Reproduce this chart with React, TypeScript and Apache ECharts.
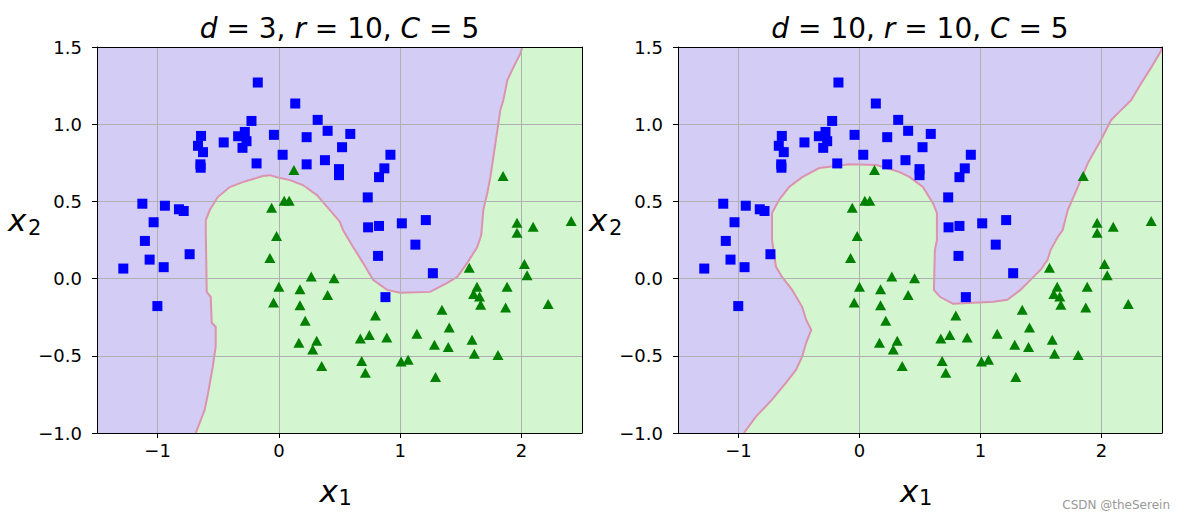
import React, { useEffect, useRef } from 'react';
import * as echarts from 'echarts';

// ---------- data ----------
const X_TICKS = [-1, 0, 1, 2];
const Y_MIN = -1.0;
const Y_MAX = 1.5;
const Y_STEP = 0.5;
const X_MIN = -1.5;
const X_MAX = 2.5;

// class 0 (blue squares)
const squares: number[][] = [
  [-0.174, 1.270], [0.135, 1.134], [0.320, 1.028], [0.402, 0.957], [0.229, 0.916],
  [-0.041, 0.931], [-0.226, 1.021], [-0.281, 0.950], [-0.336, 0.922], [-0.267, 0.890],
  [-0.300, 0.847], [-0.455, 0.882], [-0.642, 0.924], [-0.667, 0.860], [-0.626, 0.819],
  [-0.647, 0.740], [-0.645, 0.718], [-0.184, 0.746], [0.031, 0.802], [0.229, 0.740],
  [0.380, 0.767], [0.521, 0.851], [0.496, 0.709], [0.496, 0.670], [0.589, 0.937],
  [0.920, 0.802], [0.870, 0.714], [0.826, 0.657], [0.733, 0.526], [0.736, 0.332],
  [0.826, 0.341], [1.014, 0.358], [1.212, 0.379], [1.126, 0.220], [0.818, 0.147],
  [1.270, 0.035], [0.879, -0.120], [-1.126, 0.485], [-0.940, 0.472], [-0.824, 0.449],
  [-0.785, 0.438], [-1.033, 0.365], [-1.105, 0.244], [-1.066, 0.123], [-1.283, 0.065],
  [-0.950, 0.074], [-0.736, 0.158], [-1.002, -0.178],
];

// class 1 (green triangles)
const triangles: number[][] = [
  [0.124, 0.703], [-0.060, 0.459], [0.044, 0.504], [0.085, 0.504], [-0.019, 0.276],
  [-0.074, 0.134], [0.000, -0.052], [-0.044, -0.155], [0.174, -0.069], [0.267, 0.013],
  [0.455, 0.003], [0.402, -0.107], [0.174, -0.172], [0.217, -0.273], [0.165, -0.416],
  [0.312, -0.403], [0.279, -0.459], [0.353, -0.566], [1.849, 0.664], [1.964, 0.362],
  [1.964, 0.297], [2.097, 0.336], [2.411, 0.373], [2.025, 0.095], [2.047, 0.022],
  [1.570, 0.071], [1.634, -0.052], [1.606, -0.099], [1.655, -0.116], [1.664, -0.170],
  [1.882, -0.052], [1.870, -0.187], [2.221, -0.164], [1.345, -0.202], [0.796, -0.239],
  [1.405, -0.317], [1.138, -0.357], [0.746, -0.366], [0.672, -0.388], [0.890, -0.381],
  [1.283, -0.429], [1.397, -0.443], [1.593, -0.396], [1.612, -0.487], [1.807, -0.495],
  [0.683, -0.534], [0.713, -0.610], [1.008, -0.537], [1.066, -0.526], [1.292, -0.637],
];

// decision boundary, d = 3 (green side lies to the right / below)
const boundaryD3: number[][] = [
  [-0.686, -1.0], [-0.653, -0.934], [-0.612, -0.850], [-0.587, -0.754], [-0.545, -0.571],
  [-0.521, -0.440], [-0.521, -0.312], [-0.554, -0.286], [-0.562, -0.118], [-0.595, -0.086],
  [-0.603, 0.315], [-0.603, 0.379], [-0.570, 0.444], [-0.504, 0.528], [-0.405, 0.593],
  [-0.298, 0.625], [-0.132, 0.664], [-0.074, 0.670], [-0.017, 0.657], [0.091, 0.638],
  [0.198, 0.606], [0.314, 0.541], [0.421, 0.444], [0.504, 0.367], [0.529, 0.315],
  [0.612, 0.205], [0.694, 0.102], [0.777, -0.008], [0.893, -0.073], [1.000, -0.092],
  [1.248, -0.086], [1.388, -0.028], [1.471, 0.011], [1.554, 0.102], [1.636, 0.205],
  [1.669, 0.282], [1.686, 0.444], [1.719, 0.554], [1.744, 0.658], [1.769, 0.787],
  [1.802, 0.961], [1.826, 1.090], [1.851, 1.155], [1.884, 1.284], [1.934, 1.368],
  [1.992, 1.459], [2.008, 1.5],
];
const closeD3: number[][] = [[2.5, 1.5], [2.5, -1.0]];

// decision boundary, d = 10
const boundaryD10: number[][] = [
  [-0.956, -1.0], [-0.856, -0.894], [-0.723, -0.784], [-0.607, -0.674], [-0.524, -0.590],
  [-0.474, -0.506], [-0.441, -0.416], [-0.399, -0.332], [-0.441, -0.267], [-0.474, -0.183],
  [-0.557, -0.073], [-0.640, 0.011], [-0.690, 0.076], [-0.723, 0.250], [-0.723, 0.425],
  [-0.665, 0.509], [-0.582, 0.593], [-0.474, 0.657], [-0.333, 0.716], [-0.083, 0.741],
  [0.141, 0.735], [0.333, 0.690], [0.416, 0.657], [0.524, 0.593], [0.607, 0.489],
  [0.640, 0.425], [0.640, 0.250], [0.623, 0.185], [0.615, -0.073], [0.665, -0.118],
  [0.773, -0.163], [1.106, -0.150], [1.222, -0.137], [1.330, -0.073], [1.438, 0.011],
  [1.496, 0.056], [1.554, 0.121], [1.579, 0.185], [1.638, 0.269], [1.679, 0.315],
  [1.721, 0.444], [1.804, 0.593], [1.887, 0.748], [1.995, 0.897], [2.078, 1.026],
  [2.161, 1.091], [2.244, 1.155], [2.328, 1.265], [2.411, 1.368], [2.494, 1.478],
  [2.5, 1.5],
];
const closeD10: number[][] = [[2.5, -1.0]];

const panelParams = [
  { d: '3', r: '10', C: '5' },
  { d: '10', r: '10', C: '5' },
];
const watermark = 'CSDN @theSerein';

// ---------- styling ----------
const FONT = '"DejaVu Sans", sans-serif';
const PURPLE = '#d3ccf5';
const GREEN = '#d3f5cf';
const EDGE = '#db93b0';
const GRIDS = [
  { left: 97, top: 47, width: 485, height: 386 },
  { left: 678, top: 47, width: 484, height: 386 },
];
const minus = (s: string) => s.replace('-', '\u2212');

export default function App() {
  const ref = useRef<HTMLDivElement>(null);

  useEffect(() => {
    const chart = echarts.init(ref.current!, null, { renderer: 'svg' });
    const xAxes: any[] = [];
    const yAxes: any[] = [];
    const series: any[] = [];
    const graphics: any[] = [];
    const regions = [
      { boundary: boundaryD3, close: closeD3 },
      { boundary: boundaryD10, close: closeD10 },
    ];

    GRIDS.forEach((g, i) => {
      xAxes.push({
        gridIndex: i, type: 'value', min: X_MIN, max: X_MAX, position: 'bottom', z: 3,
        axisLine: { show: true, onZero: false, lineStyle: { color: '#000', width: 1 } },
        axisTick: { show: true, length: 5, customValues: X_TICKS, lineStyle: { color: '#000', width: 1 } },
        axisLabel: {
          customValues: X_TICKS, margin: 8, color: '#000', fontSize: 18, fontFamily: FONT,
          formatter: (v: number) => minus(String(v)),
        },
        splitLine: { show: true, lineStyle: { color: '#b0b0b0', width: 1 } },
      });
      xAxes.push({
        gridIndex: i, type: 'value', min: X_MIN, max: X_MAX, position: 'top', z: 3,
        axisLine: { show: true, onZero: false, lineStyle: { color: '#000', width: 1 } },
        axisTick: { show: false }, axisLabel: { show: false }, splitLine: { show: false },
      });
      yAxes.push({
        gridIndex: i, type: 'value', min: Y_MIN, max: Y_MAX, interval: Y_STEP, position: 'left', z: 3,
        axisLine: { show: true, onZero: false, lineStyle: { color: '#000', width: 1 } },
        axisTick: { show: true, length: 5, lineStyle: { color: '#000', width: 1 } },
        axisLabel: {
          margin: 15, color: '#000', fontSize: 18, fontFamily: FONT,
          formatter: (v: number) => minus(v.toFixed(1)),
        },
        splitLine: { show: true, lineStyle: { color: '#b0b0b0', width: 1 } },
      });
      yAxes.push({
        gridIndex: i, type: 'value', min: Y_MIN, max: Y_MAX, interval: Y_STEP, position: 'right', z: 3,
        axisLine: { show: true, onZero: false, lineStyle: { color: '#000', width: 1 } },
        axisTick: { show: false }, axisLabel: { show: false }, splitLine: { show: false },
      });

      const reg = regions[i];
      series.push({
        type: 'custom', coordinateSystem: 'cartesian2d', xAxisIndex: i * 2, yAxisIndex: i * 2,
        z: 1, silent: true, clip: true, data: [[0, 0]],
        renderItem: (_p: any, api: any) => {
          const pts = reg.boundary.map((p) => api.coord(p));
          const poly = pts.concat(reg.close.map((p) => api.coord(p)));
          return {
            type: 'group',
            children: [
              { type: 'polygon', shape: { points: poly }, style: { fill: GREEN } },
              { type: 'polyline', shape: { points: pts }, style: { stroke: EDGE, lineWidth: 2, fill: null } },
            ],
          };
        },
      });
      series.push({
        type: 'scatter', xAxisIndex: i * 2, yAxisIndex: i * 2, z: 5, silent: true,
        data: squares, symbol: 'rect', symbolSize: 10, itemStyle: { color: '#0000ff', opacity: 1 },
      });
      series.push({
        type: 'scatter', xAxisIndex: i * 2, yAxisIndex: i * 2, z: 6, silent: true,
        data: triangles, symbol: 'triangle', symbolSize: [11, 10], itemStyle: { color: '#008000', opacity: 1 },
      });

      const cx = g.left + g.width / 2;
      const p = panelParams[i];
      graphics.push({
        type: 'text', x: cx, y: 28, silent: true,
        style: {
          text: `{i|d} = ${p.d}, {i|r} = ${p.r}, {i|C} = ${p.C}`,
          align: 'center', verticalAlign: 'middle', fill: '#000',
          fontSize: 28, fontFamily: FONT,
          rich: {
            i: { fontStyle: 'italic', fontSize: 28, fontFamily: FONT, fill: '#000' },
          },
        },
      });
      // x1 label
      graphics.push({
        type: 'text', x: cx - 20, y: 491, silent: true,
        style: { text: 'x', fontStyle: 'italic', fontSize: 31, fontFamily: FONT, fill: '#000', align: 'left', verticalAlign: 'middle' },
      });
      graphics.push({
        type: 'text', x: cx - 1, y: 497.5, silent: true,
        style: { text: '1', fontSize: 21, fontFamily: FONT, fill: '#000', align: 'left', verticalAlign: 'middle' },
      });
      // x2 label
      graphics.push({
        type: 'text', x: g.left - 89, y: 219.5, silent: true,
        style: { text: 'x', fontStyle: 'italic', fontSize: 31, fontFamily: FONT, fill: '#000', align: 'left', verticalAlign: 'middle' },
      });
      graphics.push({
        type: 'text', x: g.left - 69, y: 227.5, silent: true,
        style: { text: '2', fontSize: 21, fontFamily: FONT, fill: '#000', align: 'left', verticalAlign: 'middle' },
      });
    });

    graphics.push({
      type: 'text', x: 1170, y: 505, silent: true,
      style: { text: watermark, fontSize: 12, fontFamily: FONT, fill: '#999', align: 'right', verticalAlign: 'middle' },
    });

    chart.setOption({
      animation: false,
      grid: GRIDS.map((g) => ({ ...g, show: true, backgroundColor: PURPLE, borderWidth: 0 })),
      xAxis: xAxes,
      yAxis: yAxes,
      series,
      graphic: graphics,
    });
    return () => chart.dispose();
  }, []);

  return (
    <div
      ref={ref}
      style={{ position: 'fixed', left: 0, top: 0, width: 1179, height: 519, background: '#fff' }}
    />
  );
}
